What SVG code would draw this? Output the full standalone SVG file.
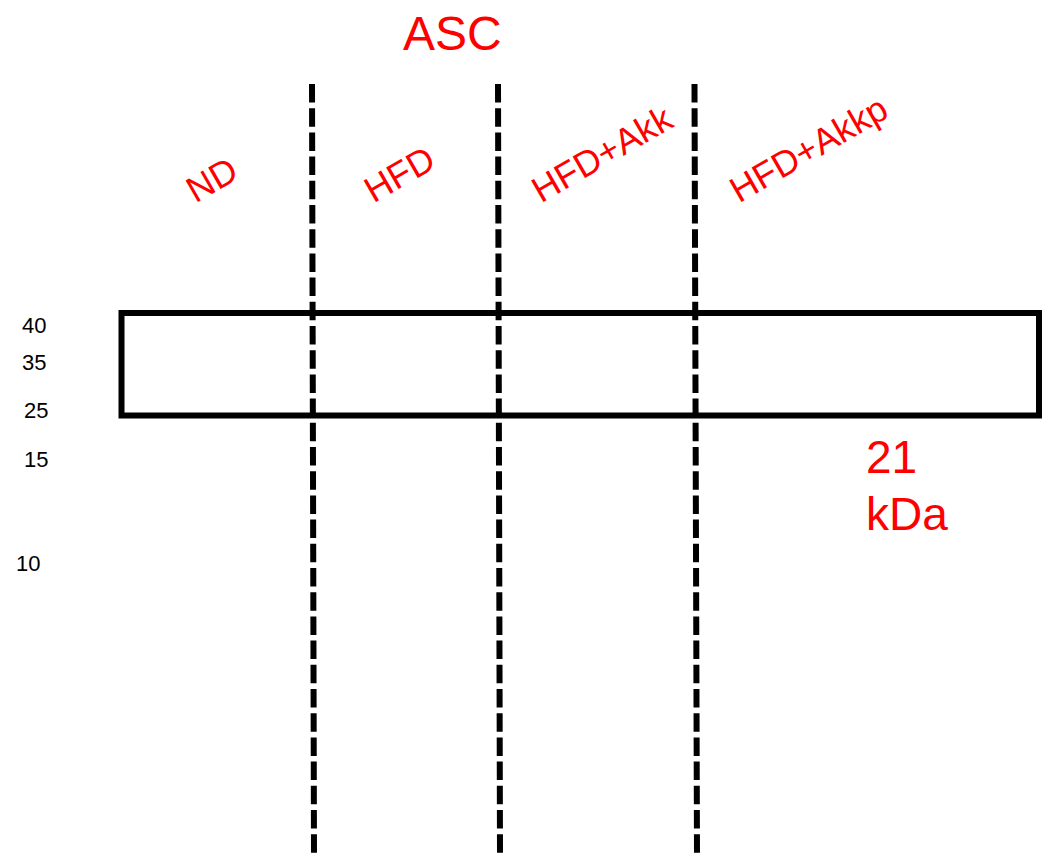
<svg xmlns="http://www.w3.org/2000/svg" width="1051" height="865" viewBox="0 0 1051 865">
<style>
.red{fill:#ff0000;font-family:"Liberation Sans",Arial,sans-serif}
.lane{font-size:36px}
.mw{font-family:"Liberation Sans",Arial,sans-serif;font-size:22px;fill:#000}
.dash{stroke:#000;stroke-width:6;stroke-dasharray:18.5 5.7;fill:none}
</style>
<rect width="1051" height="865" fill="#fff"/>
<g id="connectors">
<line class="dash" x1="312" y1="84" x2="314" y2="856"/>
<line class="dash" x1="498" y1="84" x2="500" y2="856"/>
<line class="dash" x1="694.5" y1="84" x2="697" y2="856"/>
</g>
<g id="box">
<rect x="121.5" y="313" width="917.5" height="102.5" fill="none" stroke="#000" stroke-width="6"/>
</g>
<g id="title"><text class="red" x="403" y="50" font-size="48">ASC</text></g>
<g id="lane-ND"><text class="red lane" transform="translate(195.6,203.4) rotate(-30)">ND</text></g>
<g id="lane-HFD"><text class="red lane" transform="translate(373.6,203.4) rotate(-30)">HFD</text></g>
<g id="lane-HFDAkk"><text class="red lane" transform="translate(541,203.4) rotate(-30)">HFD+Akk</text></g>
<g id="lane-HFDAkkp"><text class="red lane" transform="translate(739,203.4) rotate(-30)">HFD+Akkp</text></g>
<g id="markers">
<text class="mw" x="22" y="333">40</text>
<text class="mw" x="22" y="370">35</text>
<text class="mw" x="24" y="418">25</text>
<text class="mw" x="24" y="467">15</text>
<text class="mw" x="16" y="571">10</text>
</g>
<g id="size-label">
<text class="red" font-size="46"><tspan x="866" y="473">21</tspan><tspan x="866" y="530">kDa</tspan></text>
</g>
</svg>
